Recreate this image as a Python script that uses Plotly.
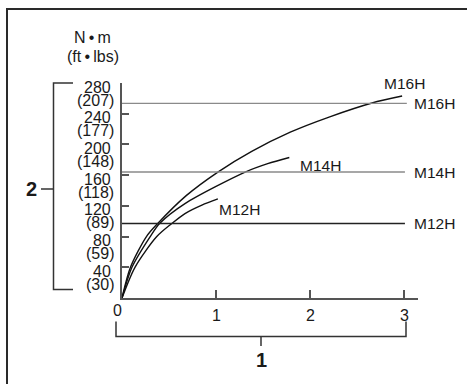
import plotly.graph_objects as go

# ---- data ----
m16_x = [0, 0.09, 0.26, 0.38, 0.68, 1.02, 1.38, 1.79, 2.21, 2.66, 2.98]
m16_y = [0, 40, 80, 97, 133, 164, 191, 216, 236, 254, 263]
m14_x = [0, 0.106, 0.30, 0.40, 0.67, 1.31, 1.55, 1.78]
m14_y = [0, 40, 80, 97, 123, 164, 175, 183]
m12_x = [0, 0.138, 0.37, 0.53, 0.67, 0.85, 1.02]
m12_y = [0, 40, 80, 97, 110, 121, 129]

ref_names = ["M16H", "M14H", "M12H"]
ref_vals = [253.5, 164, 97]
ref_end = [3.03, 3.01, 3.01]
ref_colors = ["#8a8a8a", "#8a8a8a", "#222222"]

nm_ticks = [280, 240, 200, 160, 120, 80, 40]
ftlb_labels = ["(207)", "(177)", "(148)", "(118)", "(89)", "(59)", "(30)"]
x_ticks = [0, 1, 2, 3]

W, H = 467, 384
L, R, T, B = 122, 49, 83, 86
PW, PH = W - L - R, H - T - B
XMAX = PW / 94.0
YMAX = 280

def px(x):
    return (x - L) / PW

def py(y):
    return (H - B - y) / PH

FONT = "Liberation Sans, Arial, sans-serif"
TXT = "#1a1a1a"
AX = "#555555"

fig = go.Figure()
for xs, ys in [(m16_x, m16_y), (m14_x, m14_y), (m12_x, m12_y)]:
    fig.add_trace(go.Scatter(x=xs, y=ys, mode="lines",
                             line=dict(color="#111111", width=1.4, shape="spline", smoothing=0.8),
                             hoverinfo="skip", showlegend=False))
for name, v, xe, c in zip(ref_names, ref_vals, ref_end, ref_colors):
    fig.add_trace(go.Scatter(x=[0, xe], y=[v, v], mode="lines",
                             line=dict(color=c, width=1.4),
                             hoverinfo="skip", showlegend=False))

ann = []
# y tick labels (two rows)
for v, ft in zip(nm_ticks, ftlb_labels):
    ann.append(dict(x=0, y=v, xref="x", yref="y", text=str(v), showarrow=False,
                    xanchor="right", yanchor="middle", xshift=-9, yshift=-4,
                    font=dict(size=16, color=TXT, family=FONT)))
    ann.append(dict(x=0, y=v, xref="x", yref="y", text=ft, showarrow=False,
                    xanchor="right", yanchor="middle", xshift=-6, yshift=-17,
                    font=dict(size=16, color=TXT, family=FONT)))
# x tick labels
for t in x_ticks:
    ann.append(dict(x=t, y=0, xref="x", yref="y", text=str(t), showarrow=False,
                    xanchor="center", yanchor="middle",
                    xshift=(-5 if t == 0 else 0), yshift=(-12 if t == 0 else -17),
                    font=dict(size=16, color=TXT, family=FONT)))
# right line labels
for name, v in zip(ref_names, ref_vals):
    ann.append(dict(x=3.09, y=v, xref="x", yref="y", text=name, showarrow=False,
                    xanchor="left", yanchor="middle",
                    font=dict(size=15.5, color=TXT, family=FONT)))
# curve labels
for name, xx, yy in [("M16H", m16_x[-1], m16_y[-1]), ("M14H", m14_x[-1], m14_y[-1]),
                     ("M12H", m12_x[-1], m12_y[-1])]:
    ann.append(dict(x=xx, y=yy, xref="x", yref="y", text=name, showarrow=False,
                    xanchor="left", yanchor="middle",
                    xshift=(-20 if name == "M16H" else (9 if name == "M14H" else -1)),
                    yshift=(13 if name == "M16H" else (-8 if name == "M14H" else -11)),
                    font=dict(size=15.5, color=TXT, family=FONT)))
# unit title
ann.append(dict(x=px(92.5), y=py(37.5), xref="paper", yref="paper", text="N\u2009•\u2009m",
                showarrow=False, xanchor="center", yanchor="middle",
                font=dict(size=16, color=TXT, family=FONT)))
ann.append(dict(x=px(92.5), y=py(56.5), xref="paper", yref="paper", text="(ft\u2009•\u2009lbs)",
                showarrow=False, xanchor="center", yanchor="middle",
                font=dict(size=16, color=TXT, family=FONT)))
# bracket numbers
ann.append(dict(x=px(31), y=py(189), xref="paper", yref="paper", text="<b>2</b>",
                showarrow=False, xanchor="center", yanchor="middle",
                font=dict(size=20, color=TXT, family=FONT)))
ann.append(dict(x=px(261), y=py(360), xref="paper", yref="paper", text="<b>1</b>",
                showarrow=False, xanchor="center", yanchor="middle",
                font=dict(size=20, color=TXT, family=FONT)))

def path(pts):
    return "M " + " L ".join(f"{px(a):.5f},{py(b):.5f}" for a, b in pts)

shapes = [
    dict(type="rect", xref="paper", yref="paper", x0=px(7), y0=py(H + 20), x1=px(W + 20), y1=py(9),
         line=dict(color="#2a2a2a", width=2)),
    dict(type="path", xref="paper", yref="paper",
         path=path([(73, 83), (53.5, 83), (53.5, 289.5), (73, 289.5)]),
         line=dict(color="#333333", width=1.5)),
    dict(type="path", xref="paper", yref="paper", path=path([(41, 189), (53.5, 189)]),
         line=dict(color="#333333", width=1.5)),
    dict(type="path", xref="paper", yref="paper",
         path=path([(116, 321.5), (116, 336.5), (406, 336.5), (406, 321.5)]),
         line=dict(color="#333333", width=1.5)),
    dict(type="path", xref="paper", yref="paper", path=path([(261, 336.5), (261, 346)]),
         line=dict(color="#333333", width=1.5)),
]

fig.update_layout(
    width=W, height=H, margin=dict(l=L, r=R, t=T, b=B),
    paper_bgcolor="white", plot_bgcolor="white",
    annotations=ann, shapes=shapes, showlegend=False,
    xaxis=dict(range=[0, XMAX], showgrid=False, zeroline=False, showline=True,
               linecolor=AX, linewidth=1.6, ticks="inside", ticklen=8, tickwidth=1.5,
               tickcolor=AX, tickvals=x_ticks[1:], showticklabels=False, fixedrange=True),
    yaxis=dict(range=[0, YMAX], showgrid=False, zeroline=False, showline=True,
               linecolor=AX, linewidth=1.6, ticks="inside", ticklen=7, tickwidth=1.5,
               tickcolor=AX, tickvals=nm_ticks, showticklabels=False, fixedrange=True),
)
fig.write_html("out.html", config={"displayModeBar": False},
               post_script="document.body.style.margin='0';document.body.style.overflow='hidden';")
